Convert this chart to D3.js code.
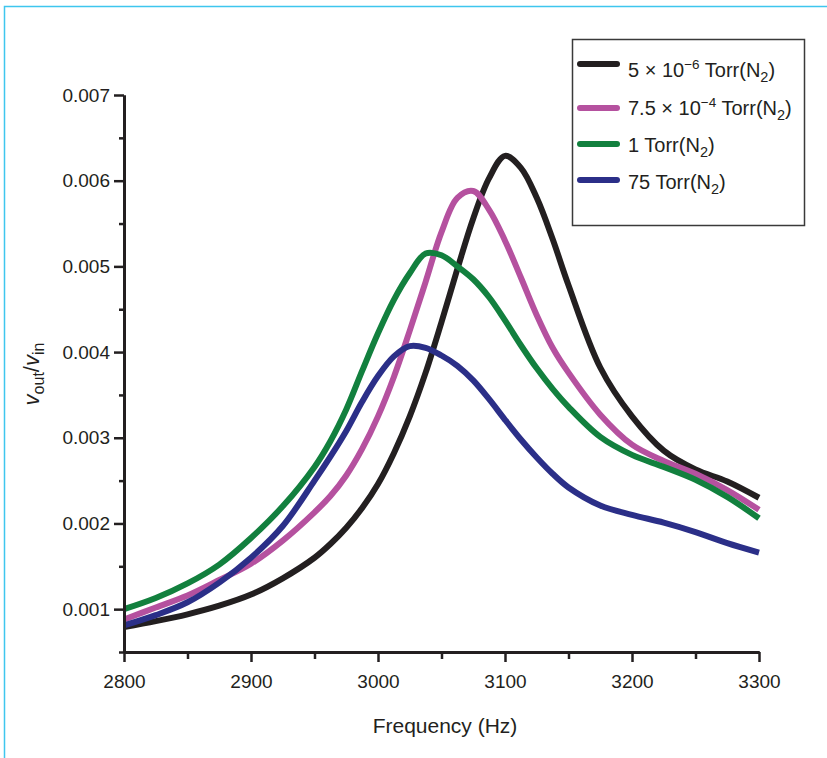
<!DOCTYPE html>
<html>
<head>
<meta charset="utf-8">
<script src="https://cdn.jsdelivr.net/npm/d3@7"></script>
<style>
  body { margin: 0; background: #fff; }
  text { font-family: "Liberation Sans", Arial, sans-serif; fill: #231f20; }
</style>
</head>
<body>
<div id="container"></div>
<script>
// frekvencije (Hz)
const freq = [2800, 2825, 2850, 2875, 2900, 2925, 2950, 2962.5, 2975, 2987.5, 3000, 3012.5, 3025, 3037.5,
  3050, 3062.5, 3075, 3087.5, 3100, 3112.5, 3125, 3137.5, 3150, 3175, 3200, 3225, 3250, 3275, 3300];

// vout/vin za svaki tlak
const torr5e6 = [0.00079, 0.00086, 0.00094, 0.00104, 0.00117, 0.00136, 0.0016, 0.00176, 0.00195, 0.00218,
  0.00246, 0.00282, 0.00325, 0.00376, 0.00435, 0.00497, 0.00556, 0.00603, 0.00629, 0.00615, 0.0058,
  0.00532, 0.00478, 0.00382, 0.00325, 0.00285, 0.00263, 0.00249, 0.0023];
const torr75e4 = [0.00088, 0.00102, 0.00116, 0.00134, 0.00153, 0.0018, 0.00213, 0.00232, 0.00256, 0.00287,
  0.00325, 0.00371, 0.00425, 0.00482, 0.0054, 0.0058, 0.00588, 0.00566, 0.0053, 0.00487, 0.00443,
  0.00405, 0.00376, 0.00327, 0.00292, 0.00273, 0.00258, 0.00239, 0.00216];
const torr1 = [0.001, 0.00113, 0.0013, 0.00152, 0.00183, 0.0022, 0.00266, 0.00296, 0.00333, 0.00378,
  0.00422, 0.00461, 0.00492, 0.00515, 0.00513, 0.005, 0.00485, 0.00464, 0.00437, 0.00408, 0.00381,
  0.00357, 0.00336, 0.00301, 0.0028, 0.00266, 0.00251, 0.00231, 0.00206];
const torr75 = [0.00081, 0.00093, 0.00108, 0.00131, 0.0016, 0.00197, 0.0025, 0.00278, 0.00308, 0.00342,
  0.00372, 0.00395, 0.00407, 0.00405, 0.00396, 0.00384, 0.00367, 0.00345, 0.00321, 0.00298, 0.00277,
  0.00258, 0.00242, 0.00221, 0.0021, 0.00201, 0.0019, 0.00177, 0.00166];

const xTicks = [2800, 2900, 3000, 3100, 3200, 3300];
const xMinor = [2850, 2950, 3050, 3150, 3250];
const yTicks = [0.001, 0.002, 0.003, 0.004, 0.005, 0.006, 0.007];
const yMinor = [0.0005, 0.0015, 0.0025, 0.0035, 0.0045, 0.0055, 0.0065];

const seriesNames = ["5e-6", "7.5e-4", "1", "75"];
const seriesColors = ["#231f20", "#b5519f", "#12803e", "#2b2f88"];
const seriesValues = [torr5e6, torr75e4, torr1, torr75];

const width = 827;
const height = 758;
const ink = "#231f20";

const svg = d3
  .select("#container")
  .append("svg")
  .attr("width", width)
  .attr("height", height);

// plavi okvir
svg.append("path")
  .attr("d", `M4.5,${height}V6.5H${width}`)
  .attr("fill", "none")
  .attr("stroke", "#3fc6ee")
  .attr("stroke-width", 1.5);

const xScale = d3.scaleLinear().domain([2800, 3300]).range([124, 759]);
const yScale = d3.scaleLinear().domain([0.0005, 0.007]).range([652, 95]);

// linije
const line = d3
  .line()
  .x((d) => xScale(d[0]))
  .y((d) => yScale(d[1]))
  .curve(d3.curveCatmullRom.alpha(0.5));

seriesValues.forEach((vals, i) => {
  svg.append("path")
    .datum(freq.map((f, j) => [f, vals[j]]))
    .attr("d", line)
    .attr("fill", "none")
    .attr("stroke", seriesColors[i])
    .attr("stroke-width", 6)
    .attr("stroke-linejoin", "round");
});

// osi
function styleAxis(g) {
  g.select(".domain").attr("stroke", ink).attr("stroke-width", 3);
  g.selectAll(".tick line").attr("stroke", ink).attr("stroke-width", 2.5);
  g.selectAll(".tick text")
    .style("font-size", "19px")
    .attr("fill", ink);
}

svg.append("g")
  .attr("transform", "translate(0,652)")
  .call(d3.axisBottom(xScale).tickValues(xMinor).tickSize(7).tickSizeOuter(0).tickFormat(""))
  .call(styleAxis);

svg.append("g")
  .attr("transform", "translate(0,652)")
  .call(d3.axisBottom(xScale).tickValues(xTicks).tickSize(10).tickSizeOuter(0).tickPadding(13)
    .tickFormat(d3.format("d")))
  .call(styleAxis);

svg.append("g")
  .attr("transform", "translate(124,0)")
  .call(d3.axisLeft(yScale).tickValues(yMinor).tickSize(5).tickSizeOuter(0).tickFormat(""))
  .call(styleAxis);

svg.append("g")
  .attr("transform", "translate(124,0)")
  .call(d3.axisLeft(yScale).tickValues(yTicks).tickSize(10).tickSizeOuter(0).tickPadding(4)
    .tickFormat(d3.format(".3f")))
  .call(styleAxis);

// naslov x osi
svg.append("text")
  .attr("x", 445)
  .attr("y", 733)
  .style("text-anchor", "middle")
  .style("font-size", "21px")
  .text("Frequency (Hz)");

// naslov y osi
const yTitle = svg.append("text")
  .attr("transform", "translate(39,374) rotate(-90)")
  .style("text-anchor", "middle")
  .style("font-size", "22px");
yTitle.append("tspan").style("font-style", "italic").text("v");
yTitle.append("tspan").attr("dy", 5).style("font-size", "16px").text("out");
yTitle.append("tspan").attr("dy", -5).text("/");
yTitle.append("tspan").style("font-style", "italic").text("v");
yTitle.append("tspan").attr("dy", 5).style("font-size", "16px").text("in");

// legenda
const legend = svg.append("g");
legend.append("rect")
  .attr("x", 572.5)
  .attr("y", 39.5)
  .attr("width", 232)
  .attr("height", 186)
  .attr("fill", "#fff")
  .attr("stroke", "#3a3a3a")
  .attr("stroke-width", 1.5);

const lineY = [64, 108, 144, 180];
const textY = [77, 115, 152, 189];

seriesNames.forEach((name, i) => {
  legend.append("line")
    .attr("x1", 580)
    .attr("x2", 617)
    .attr("y1", lineY[i])
    .attr("y2", lineY[i])
    .attr("stroke", seriesColors[i])
    .attr("stroke-width", 6)
    .attr("stroke-linecap", "round");

  const t = legend.append("text")
    .attr("x", 628)
    .attr("y", textY[i])
    .style("font-size", "20px");
  if (i === 0) {
    t.append("tspan").text("5 \u00d7 10");
    t.append("tspan").attr("dy", -8).style("font-size", "13.5px").text("\u22126");
    t.append("tspan").attr("dy", 8).text(" Torr(N");
  } else if (i === 1) {
    t.append("tspan").text("7.5 \u00d7 10");
    t.append("tspan").attr("dy", -8).style("font-size", "13.5px").text("\u22124");
    t.append("tspan").attr("dy", 8).text(" Torr(N");
  } else {
    t.append("tspan").text(name + " Torr(N");
  }
  t.append("tspan").attr("dy", 5).style("font-size", "14.5px").text("2");
  t.append("tspan").attr("dy", -5).text(")");
});
</script>
</body>
</html>
